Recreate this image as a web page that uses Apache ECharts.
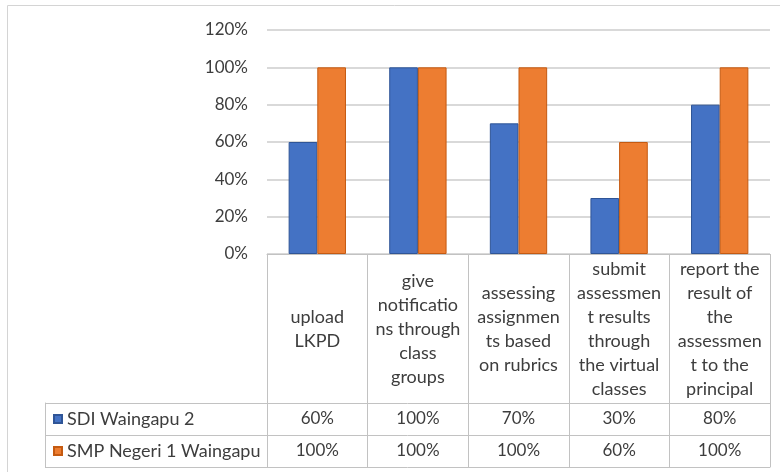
<!DOCTYPE html>
<html>
<head>
<meta charset="utf-8">
<script src="https://cdn.jsdelivr.net/npm/echarts@6/dist/echarts.min.js"></script>
<style>
html,body{margin:0;padding:0;background:#fff;}
#chart{width:780px;height:472px;}
</style>
</head>
<body>
<div id="chart"></div>
<script>
var categories = [
  'upload\nLKPD',
  'give\nnotificatio\nns through\nclass\ngroups',
  'assessing\nassignmen\nts based\non rubrics',
  'submit\nassessmen\nt results\nthrough\nthe virtual\nclasses',
  'report the\nresult of\nthe\nassessmen\nt to the\nprincipal'
];
var seriesNames = ['SDI Waingapu 2', 'SMP Negeri 1 Waingapu'];
var sdi = [0.6, 1.0, 0.7, 0.3, 0.8];
var smp = [1.0, 1.0, 1.0, 0.6, 1.0];
var yTicks = [0, 0.2, 0.4, 0.6, 0.8, 1.0, 1.2];

var FONT = 'Lato';
var TXT = '#3d3d3d';
var LINE = '#c2c2c2';
function pct(v){ return Math.round(v * 100) + '%'; }

var chart = echarts.init(document.getElementById('chart'), null, {renderer: 'canvas'});
chart.setOption({
  animation: false,
  textStyle: {fontFamily: FONT},
  graphic: [
    {type: 'rect', shape: {x: 7.5, y: 5.5, width: 800, height: 500}, style: {fill: 'none', stroke: '#d4d4d4', lineWidth: 1}, silent: true, z: -10},
    {type: 'text', x: 0, y: -16, style: {text: 'Teacher', font: 'bold 19px "Liberation Serif"', fill: '#222'}, silent: true}
  ],
  legend: {
    orient: 'vertical',
    left: 53,
    top: 409,
    padding: 0,
    itemWidth: 8,
    itemHeight: 8,
    itemGap: 12,
    icon: 'rect',
    textStyle: {fontSize: 18, color: TXT, lineHeight: 20, fontFamily: FONT},
    data: seriesNames
  },
  grid: [
    {left: 267, right: 10, top: 30, bottom: 218},
    {left: 45, right: 10, top: 403, bottom: 5, show: false}
  ],
  xAxis: [
    {
      gridIndex: 0, type: 'category', data: categories, position: 'bottom',
      axisLine: {show: true, lineStyle: {color: LINE, width: 1}},
      axisTick: {show: true, interval: 0, alignWithLabel: false, length: 213, lineStyle: {color: LINE, width: 1}},
      axisLabel: {interval: 0, margin: 75, verticalAlign: 'middle', align: 'center', color: TXT, fontSize: 18, lineHeight: 24, fontFamily: FONT}
    },
    {
      gridIndex: 0, type: 'category', data: categories, position: 'bottom', offset: 165,
      axisLine: {show: false}, axisTick: {show: false},
      axisLabel: {interval: 0, margin: 0, verticalAlign: 'middle', color: TXT, fontSize: 17, fontFamily: FONT,
        formatter: function(v, i){ return pct(sdi[i]); }}
    },
    {
      gridIndex: 0, type: 'category', data: categories, position: 'bottom', offset: 197,
      axisLine: {show: false}, axisTick: {show: false},
      axisLabel: {interval: 0, margin: 0, verticalAlign: 'middle', color: TXT, fontSize: 17, fontFamily: FONT,
        formatter: function(v, i){ return pct(smp[i]); }}
    },
    {gridIndex: 1, type: 'value', show: false}
  ],
  yAxis: [
    {
      gridIndex: 0, type: 'value', min: yTicks[0], max: yTicks[yTicks.length - 1], interval: 0.2,
      axisLine: {show: false}, axisTick: {show: false},
      splitLine: {show: true, lineStyle: {color: '#cdcdcd', width: 1.5}},
      axisLabel: {margin: 19, color: TXT, fontSize: 17, fontFamily: FONT, formatter: function(v){ return pct(v); }}
    },
    {
      gridIndex: 1, type: 'category', data: seriesNames, inverse: true,
      axisLine: {show: true, lineStyle: {color: LINE}},
      axisTick: {show: false}, axisLabel: {show: false},
      splitLine: {show: true, lineStyle: {color: LINE, width: 1}}
    },
    {
      gridIndex: 1, type: 'category', data: seriesNames, inverse: true, position: 'right',
      axisLine: {show: true, lineStyle: {color: LINE}},
      axisTick: {show: false}, axisLabel: {show: false}, splitLine: {show: false}
    }
  ],
  series: [
    {
      name: seriesNames[0], type: 'bar', xAxisIndex: 0, yAxisIndex: 0, data: sdi,
      barGap: '0%', barCategoryGap: '43%',
      itemStyle: {color: '#4472C4', borderColor: '#2F5597', borderWidth: 1}
    },
    {
      name: seriesNames[1], type: 'bar', xAxisIndex: 0, yAxisIndex: 0, data: smp,
      barGap: '0%', barCategoryGap: '43%',
      itemStyle: {color: '#ED7D31', borderColor: '#C55A11', borderWidth: 1}
    }
  ]
});
</script>
</body>
</html>
